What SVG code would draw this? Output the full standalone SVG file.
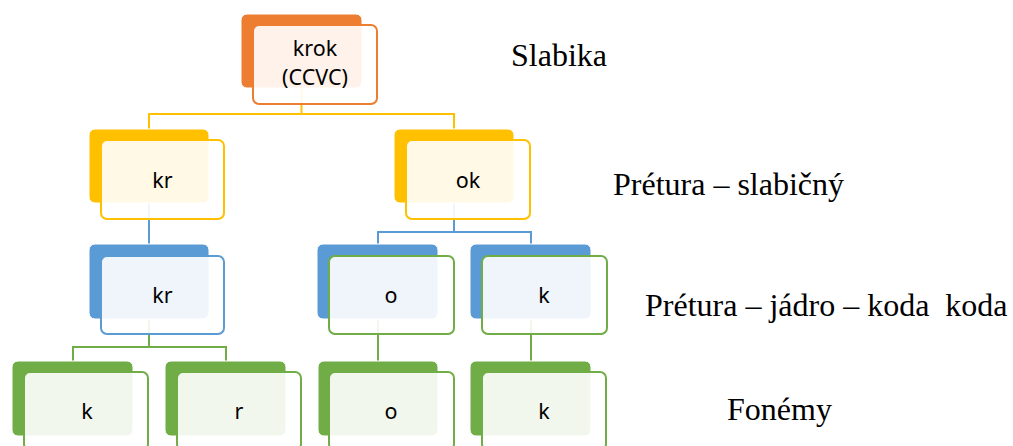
<svg xmlns="http://www.w3.org/2000/svg" width="1013" height="446" viewBox="0 0 1013 446">
<style>
.bk{stroke:#fff;stroke-width:1}
.fr{fill:#fff;fill-opacity:0.9;stroke-width:2}
.o{fill:#ED7D31}.y{fill:#FFC000}.b{fill:#5B9BD5}.g{fill:#70AD47}
.so{stroke:#ED7D31}.sy{stroke:#FFC000}.sb{stroke:#5B9BD5}.sg{stroke:#70AD47}
.t{font-family:"Noto Sans","Open Sans",sans-serif;font-size:21.5px;fill:#000;text-anchor:middle}
.lbl{font-family:"Liberation Serif","Times New Roman",serif;font-size:32px;fill:#000}
.c{fill:none;stroke-width:2}
</style>
<g id="connectors">
<path class="c sy" d="M301.5,88 V114 M149,129 V114 H454 V129"/>
<path class="c sb" d="M149,203 V244 M454,203 V232 M378,244 V232 H531 V244"/>
<path class="c sg" d="M149,319 V347 M73,361 V347 H226 V361 M378,319 V361 M531,319 V361"/>
</g>
<g id="n-krok">
<rect class="bk o" x="241" y="14" width="121" height="74" rx="6"/>
<rect class="fr so" x="253" y="25" width="124" height="79" rx="6"/>
<text class="t" x="315" y="55.5">krok</text>
<text class="t" x="315" y="85">(CCVC)</text>
</g>
<g id="n-kr1">
<rect class="bk y" x="89" y="129" width="120" height="74" rx="6"/>
<rect class="fr sy" x="101" y="140" width="123" height="79" rx="6"/>
<text class="t" x="162.5" y="188">kr</text>
</g>
<g id="n-ok">
<rect class="bk y" x="394" y="129" width="120" height="74" rx="6"/>
<rect class="fr sy" x="406" y="140" width="124" height="79" rx="6"/>
<text class="t" x="468" y="188">ok</text>
</g>
<g id="n-kr2">
<rect class="bk b" x="89" y="244" width="120" height="75" rx="6"/>
<rect class="fr sb" x="101" y="256" width="123" height="78" rx="6"/>
<text class="t" x="162.5" y="303">kr</text>
</g>
<g id="n-o1">
<rect class="bk b" x="317" y="244" width="121" height="75" rx="6"/>
<rect class="fr sg" x="329" y="256" width="125" height="78" rx="6"/>
<text class="t" x="391" y="303">o</text>
</g>
<g id="n-k1">
<rect class="bk b" x="470" y="244" width="121" height="75" rx="6"/>
<rect class="fr sg" x="482" y="256" width="125" height="78" rx="6"/>
<text class="t" x="544" y="303">k</text>
</g>
<g id="n-k2">
<rect class="bk g" x="12" y="361" width="121" height="75" rx="6"/>
<rect class="fr sg" x="24" y="372" width="124" height="78" rx="6"/>
<text class="t" x="87" y="419">k</text>
</g>
<g id="n-r">
<rect class="bk g" x="165" y="361" width="121" height="75" rx="6"/>
<rect class="fr sg" x="177" y="372" width="124" height="78" rx="6"/>
<text class="t" x="239" y="419">r</text>
</g>
<g id="n-o2">
<rect class="bk g" x="318" y="361" width="120" height="75" rx="6"/>
<rect class="fr sg" x="329" y="372" width="125" height="78" rx="6"/>
<text class="t" x="391" y="419">o</text>
</g>
<g id="n-k3">
<rect class="bk g" x="470" y="361" width="121" height="75" rx="6"/>
<rect class="fr sg" x="482" y="372" width="124" height="78" rx="6"/>
<text class="t" x="544" y="419">k</text>
</g>
<g id="labels">
<text class="lbl" x="511" y="66">Slabika</text>
<text class="lbl" x="613" y="195">Prétura – slabičný</text>
<text class="lbl" x="645" y="316" xml:space="preserve">Prétura – jádro – koda  koda</text>
<text class="lbl" x="727" y="420">Fonémy</text>
</g>
</svg>
